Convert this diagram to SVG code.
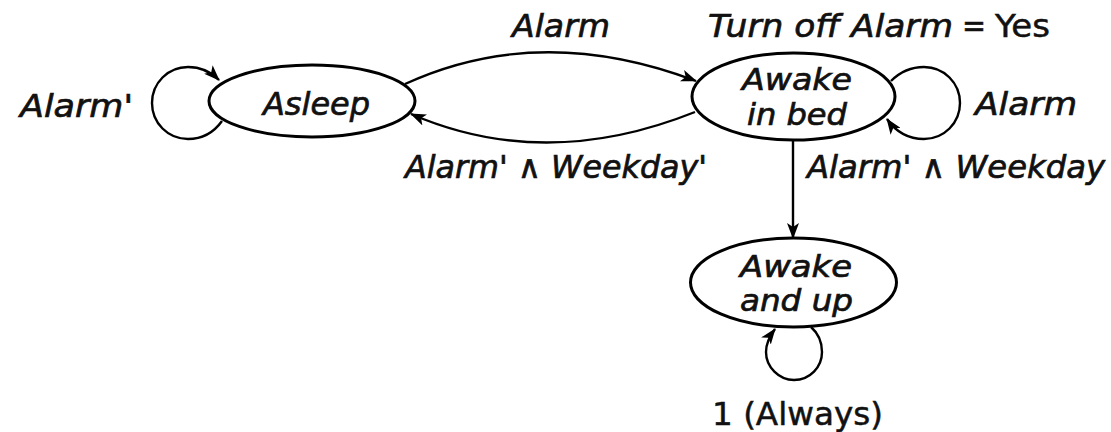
<svg xmlns="http://www.w3.org/2000/svg" width="1111" height="432" viewBox="0 0 1111 432">
<style>
.node{fill:none;stroke:#000;stroke-width:3}
.edge{fill:none;stroke:#000;stroke-width:2.4}
.lbl{font-family:"DejaVu Sans","Liberation Sans",sans-serif;font-size:32px;font-style:italic;fill:#111;stroke:#111;stroke-width:0.7}
.up{font-family:"DejaVu Sans","Liberation Sans",sans-serif;font-size:32px;fill:#111;stroke:#111;stroke-width:0.5}
.nl{font-size:30px}
</style>
<defs>
<marker id="ah" markerWidth="16" markerHeight="12" refX="15" refY="6" orient="auto" markerUnits="userSpaceOnUse">
<path d="M0,0 L16,6 L0,12 L4,6 z" fill="#000"/>
</marker>
</defs>
<rect width="1111" height="432" fill="#fff"/>
<g id="connectors">
<path class="edge" d="M405 84 Q540 22 696 81" marker-end="url(#ah)"/>
<path class="edge" d="M695 112 Q545 172 411 114" marker-end="url(#ah)"/>
<path class="edge" d="M793 140 L793 238" marker-end="url(#ah)"/>
<path class="edge" d="M222 121 C212 135 200 139 188 139 C168 139 152 123 152 103 C152 83 168 67 188 67 C200 67 210 71 219 80" marker-end="url(#ah)"/>
<path class="edge" d="M891 81 C900 72 912 67 924 67 C944 67 960 83 960 103 C960 123 944 139 924 139 C908 139 896 132 887 119" marker-end="url(#ah)"/>
<path class="edge" d="M811 327 C819 334 822 343 822 352 C822 367 810 380 794 380 C779 380 766 367 766 352 C766 344 769 337 775 329" marker-end="url(#ah)"/>
</g>
<g id="labels">
<text class="lbl" x="512" y="37" textLength="98" lengthAdjust="spacingAndGlyphs">Alarm</text>
<text class="lbl" x="708" y="37" textLength="245" lengthAdjust="spacingAndGlyphs">Turn off Alarm</text>
<text class="up" x="962" y="37" textLength="24" lengthAdjust="spacingAndGlyphs">=</text>
<text class="up" x="995" y="37" textLength="55" lengthAdjust="spacingAndGlyphs">Yes</text>
<text class="lbl" x="20" y="117" textLength="113" lengthAdjust="spacingAndGlyphs">Alarm'</text>
<text class="lbl" x="975" y="115" textLength="102" lengthAdjust="spacingAndGlyphs">Alarm</text>
<text class="lbl" x="405" y="178" textLength="302" lengthAdjust="spacingAndGlyphs">Alarm' ∧ Weekday'</text>
<text class="lbl" x="807" y="178" textLength="298" lengthAdjust="spacingAndGlyphs">Alarm' ∧ Weekday</text>
<text class="up" x="712" y="425" textLength="171" lengthAdjust="spacingAndGlyphs">1 (Always)</text>
</g>
<g id="asleep">
<ellipse class="node" cx="312" cy="101" rx="103" ry="36"/>
<text class="lbl" x="263" y="115" textLength="107" lengthAdjust="spacingAndGlyphs">Asleep</text>
</g>
<g id="awake-in-bed">
<ellipse class="node" cx="793.5" cy="96.5" rx="101.5" ry="43.5"/>
<text class="lbl nl" x="742" y="90" textLength="110" lengthAdjust="spacingAndGlyphs">Awake</text>
<text class="lbl nl" x="747" y="125" textLength="100" lengthAdjust="spacingAndGlyphs">in bed</text>
</g>
<g id="awake-and-up">
<ellipse class="node" cx="793.5" cy="282.5" rx="103" ry="44.5"/>
<text class="lbl nl" x="740" y="277" textLength="112" lengthAdjust="spacingAndGlyphs">Awake</text>
<text class="lbl nl" x="740" y="311" textLength="113" lengthAdjust="spacingAndGlyphs">and up</text>
</g>
</svg>
